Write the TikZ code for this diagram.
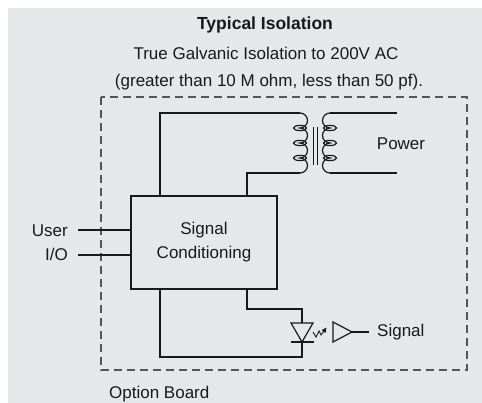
\documentclass[tikz,border=0pt]{standalone}
\usepackage{fontspec}
\setmainfont{Liberation Sans}
\usetikzlibrary{arrows.meta}
\definecolor{bggray}{RGB}{230,231,232}
\definecolor{dashgray}{RGB}{85,85,85}
\definecolor{ink}{RGB}{25,25,25}
\begin{document}
\begin{tikzpicture}[x=1pt,y=-1pt,
  wire/.style={draw=ink,line width=1.2pt},
  txt/.style={font=\fontsize{17}{20}\selectfont,text=ink,inner sep=0pt},
  boardline/.style={draw=dashgray,line width=1.3pt,dash pattern=on 8pt off 5pt},
  condbox/.style={draw=ink,line width=2pt,fill=bggray,minimum width=146pt,minimum height=93pt,inner sep=0pt,align=center,font=\fontsize{17}{24}\selectfont,text=ink}]
\useasboundingbox (0,0) rectangle (482,403);
\fill[bggray] (8,8) rectangle (482,403);
% texts
\node[txt,anchor=base,font=\bfseries\fontsize{17.5}{20}\selectfont] (title) at (265,30) {Typical Isolation};
\node[txt,anchor=base] (sub1) at (266,60) {True Galvanic Isolation to 200V AC};
\node[txt,anchor=base] (sub2) at (269,87) {(greater than 10 M ohm, less than 50 pf).};
% board
\draw[boardline] (101,97) rectangle (467,370);
\node[txt,anchor=base west] (board) at (109,398) {Option Board};
% signal conditioning box
\node[condbox] (sc) at (204,242.5) {Signal\\Conditioning};
% user io
\node[txt,anchor=base east] (user) at (68,237) {User};
\node[txt,anchor=base east] (io) at (68,261) {I/O};
\coordinate (u0) at (78,230);
\coordinate (i0) at (78,255);
\draw[wire] (u0) -- (u0 -| sc.west);
\draw[wire] (i0) -- (i0 -| sc.west);
% transformer primary
\coordinate (pt) at (300,113);
\coordinate (pb) at (300,173);
\draw[wire] (160,196) -- (160,113) -- (pt);
\draw[wire] (247,196) -- (247,173) -- (pb);
\draw[wire] (pt) arc[start angle=-90,end angle=90,radius=7.5]
  arc[start angle=-90,end angle=90,radius=7.5]
  arc[start angle=-90,end angle=90,radius=7.5]
  arc[start angle=-90,end angle=90,radius=7.5];
\foreach \yy in {128,143,158} {
  \draw[wire] (300,\yy) ellipse[x radius=6.5,y radius=2.6];
  \draw[wire] (330,\yy) ellipse[x radius=6.5,y radius=2.6];
}
% core
\draw[wire,line width=1pt] (313,127) -- (313,165);
\draw[wire,line width=1pt] (317,127) -- (317,165);
% secondary
\coordinate (st) at (330,113);
\coordinate (sb) at (330,173);
\draw[wire] (st) arc[start angle=-90,end angle=-270,radius=7.5]
  arc[start angle=-90,end angle=-270,radius=7.5]
  arc[start angle=-90,end angle=-270,radius=7.5]
  arc[start angle=-90,end angle=-270,radius=7.5];
\draw[wire] (st) -- (397,113);
\draw[wire] (sb) -- (397,173);
\node[txt,anchor=base] (power) at (401,150) {Power};
% lower wires and diode
\coordinate (da) at (302,323);
\coordinate (dk) at (302,342);
\draw[wire] (247,289) -- (247,309) -- (302,309) -- (da);
\draw[wire] (160,289) -- (160,357) -- (302,357) -- (dk);
\draw[wire,line join=miter] (291,323) -- (313,323) -- (dk) -- cycle;
\draw[wire,line width=2.2pt] (290.5,342) -- (313.5,342);
\draw[draw=ink,line width=0.9pt,-{Triangle[length=5pt,width=4.5pt]}] (313,332) -- (316,337) -- (319,331) -- (321,335) -- (326.5,327.5);
% receiver
\coordinate (ra) at (352,332);
\draw[wire,line join=miter] (333,322) -- (ra) -- (333,342) -- cycle;
\draw[wire] (ra) -- (369,332);
\node[txt,anchor=base west] (signal) at (377,337) {Signal};
\end{tikzpicture}
\end{document}
